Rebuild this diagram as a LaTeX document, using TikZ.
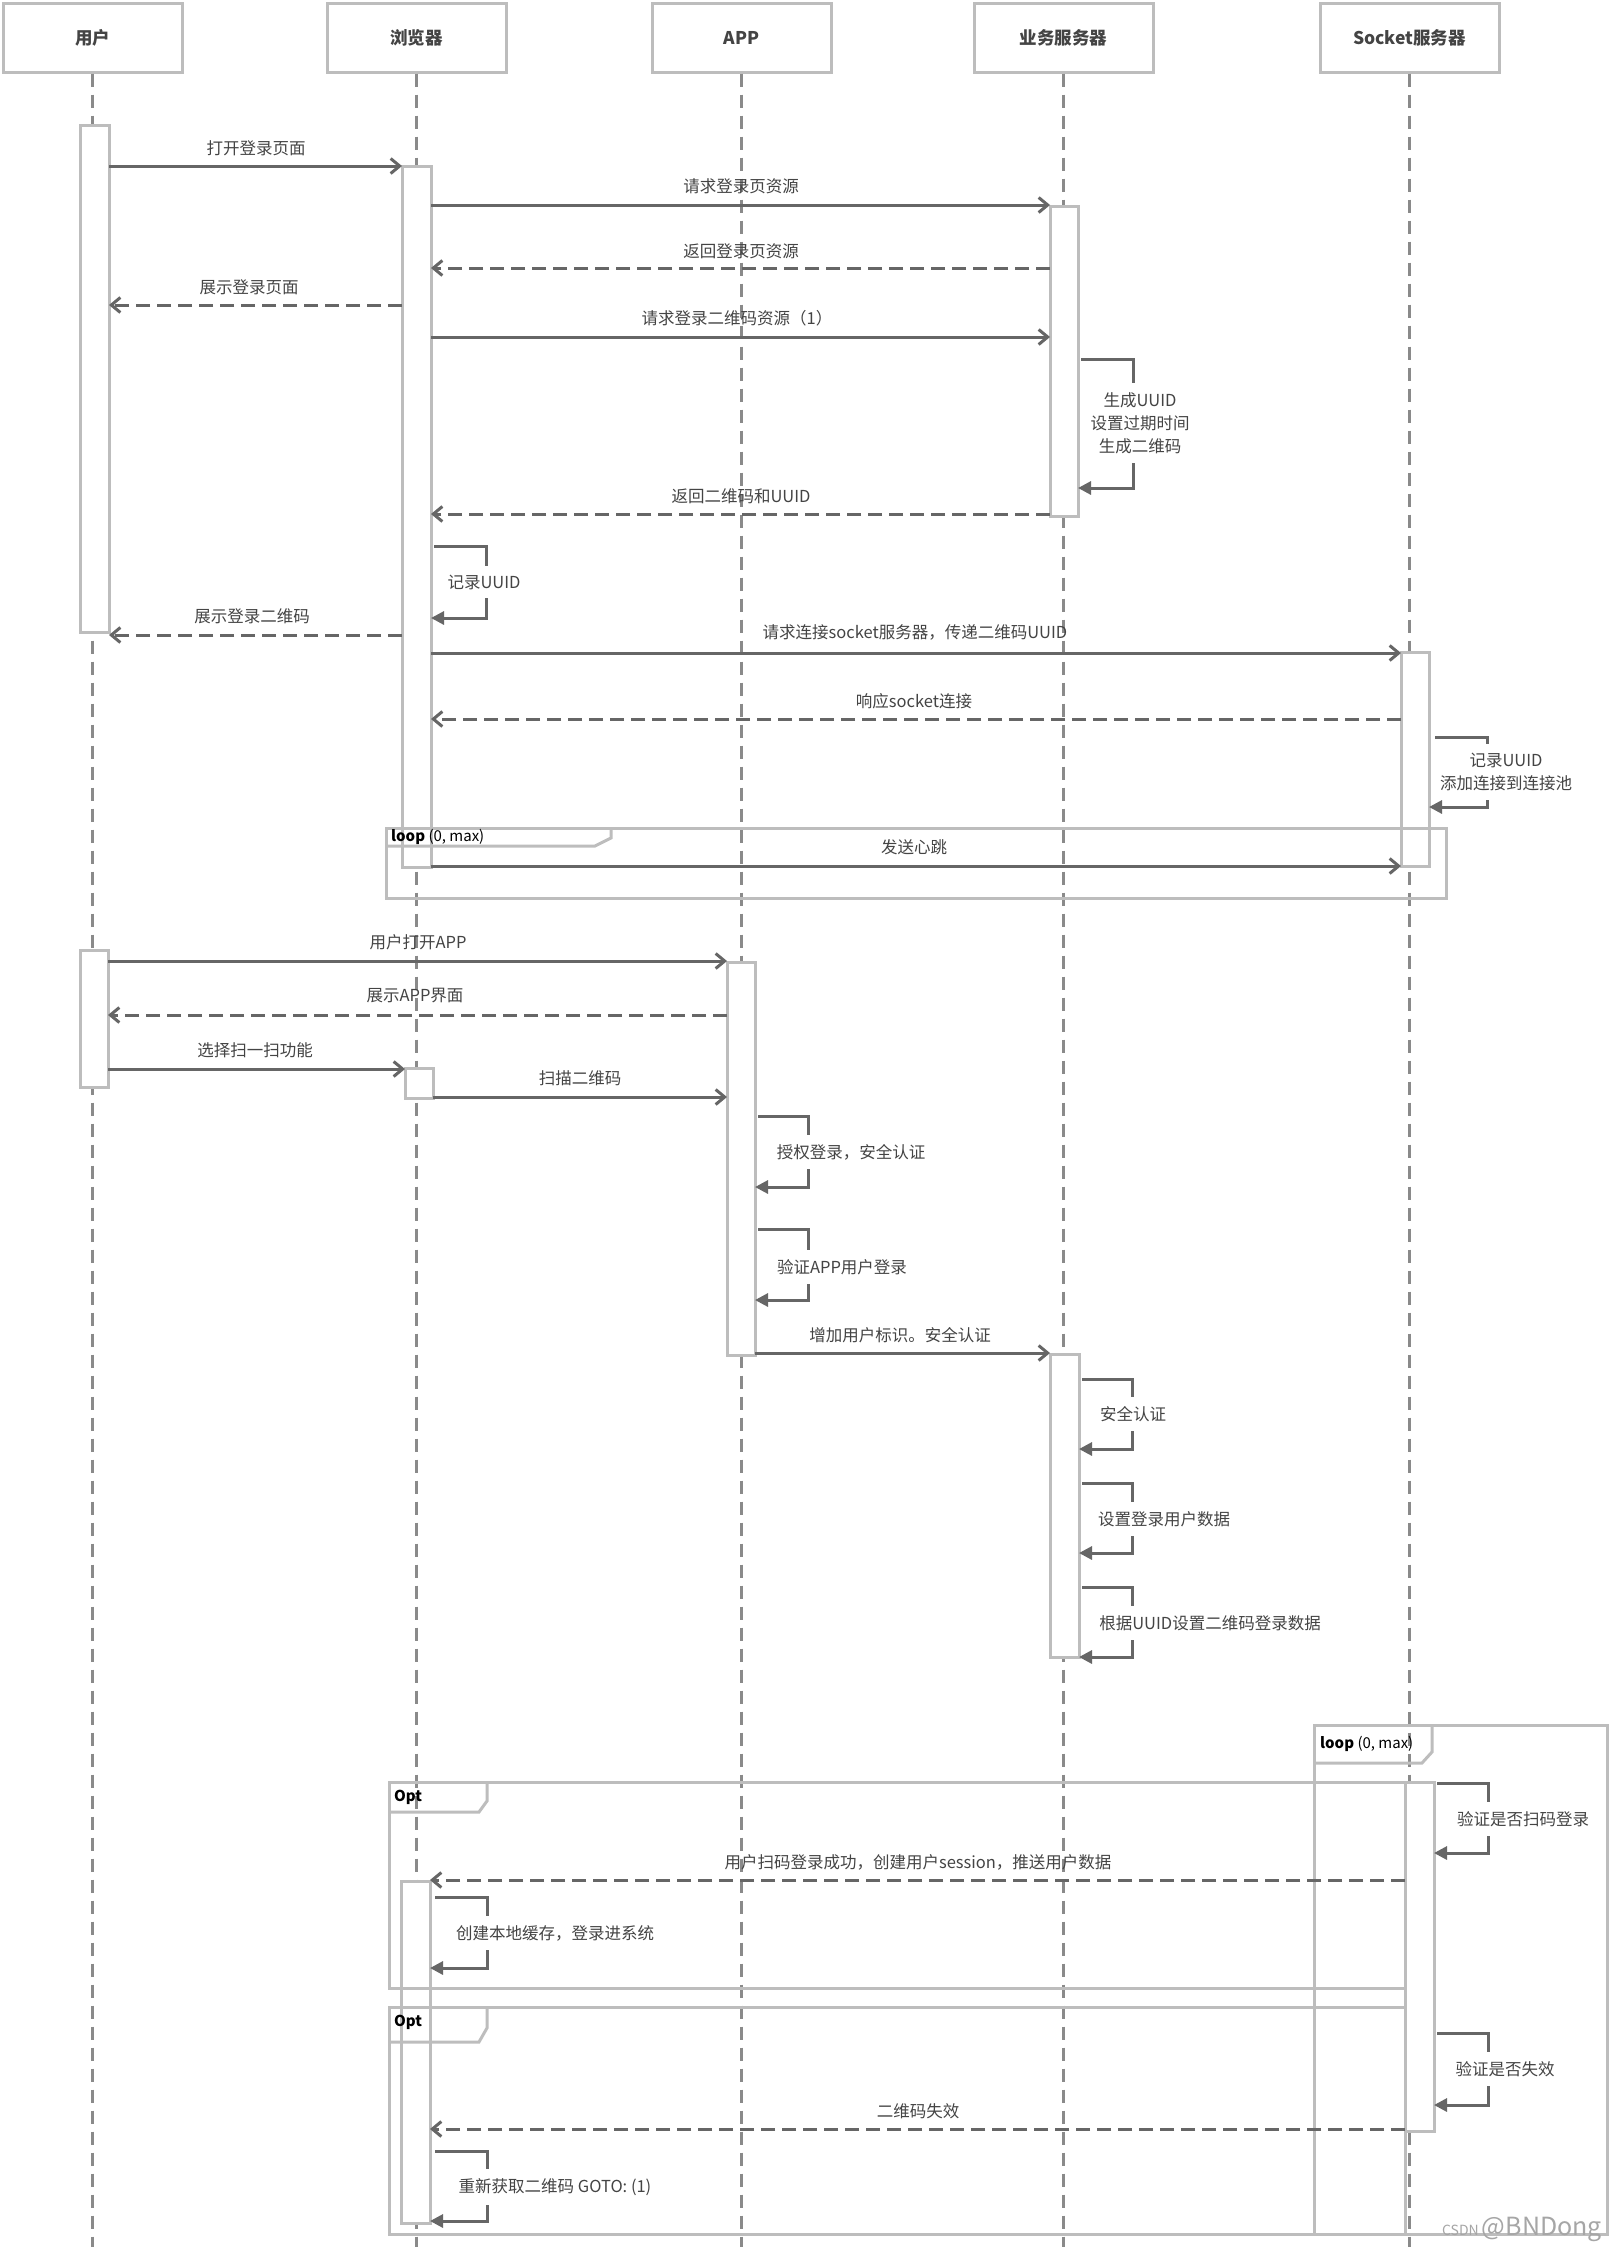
\documentclass[tikz,border=0pt]{standalone}
\usepackage{fontspec}
\setmainfont{Noto Sans CJK SC}
\usetikzlibrary{arrows.meta,fit,calc}
\definecolor{arr}{HTML}{666666}
\definecolor{boxc}{HTML}{BDBDBD}
\definecolor{lifec}{HTML}{8A8A8A}
\definecolor{txt}{HTML}{444444}
\tikzset{
  hdr/.style={draw=boxc, line width=3pt, fill=white, minimum width=179pt, minimum height=69pt, font=\fontsize{17.5}{20}\selectfont\bfseries, text=txt, inner sep=0},
  life/.style={draw=lifec, line width=2.5pt, dash pattern=on 13pt off 8pt},
  act/.style={draw=boxc, line width=3pt, fill=white, inner sep=0pt, outer sep=0pt},
  msg/.style={draw=arr, line width=3pt, -{Straight Barb[length=9pt,width=15pt]}},
  ret/.style={msg, dash pattern=on 14pt off 7pt},
  selfm/.style={draw=arr, line width=3pt, -{Triangle[length=13pt,width=13pt]}},
  lbl/.style={font=\fontsize{16.5}{19}\selectfont, text=txt, inner sep=1pt},
  slbl/.style={font=\fontsize{16.5}{23}\selectfont, text=txt, fill=white, inner xsep=2pt, inner ysep=9pt, align=center},
  frm/.style={draw=boxc, line width=3pt},
  tabtxt/.style={font=\fontsize{15}{17}\selectfont, text=black, anchor=west, inner sep=0pt},
}
\begin{document}
\begin{tikzpicture}[x=1pt,y=-1pt]
\fill[white] (0,0) rectangle (1609,2247);
\useasboundingbox (0,0) rectangle (1609,2247);
% headers
\node[hdr] (hU) at (92.5,37.5) {用户};
\node[hdr] (hB) at (416.5,37.5) {浏览器};
\node[hdr] (hA) at (741.5,37.5) {APP};
\node[hdr] (hS) at (1063.5,37.5) {业务服务器};
\node[hdr] (hK) at (1409.5,37.5) {Socket服务器};
% lifelines
\foreach \h in {hU,hB,hA,hS,hK}{\draw[life] (\h.south) -- (\h.south |- 0,2247);}
% activations
\node[act, fit={(80,125) (109,632)}] (aU1) {};
\node[act, fit={(402,166) (431,867)}] (aB1) {};
\node[act, fit={(1050,206) (1078,516)}] (aS1) {};
\node[act, fit={(1401,652) (1429,866)}] (aK1) {};
\node[act, fit={(80,950) (108,1087)}] (aU2) {};
\node[act, fit={(405,1068) (433,1098)}] (aB2) {};
\node[act, fit={(727,962) (755,1355)}] (aA1) {};
\node[act, fit={(1050,1354) (1079,1657)}] (aS2) {};
\node[act, fit={(1405,1782) (1434,2131)}] (aK2) {};
\node[act, fit={(401,1881) (430,2223)}] (aB3) {};
% frames
\draw[frm] (386,828) rectangle (1446,898);
\draw[frm] (386,846) -- (595,846) -- (611,838) -- (611,828);
\node[tabtxt] (tloop1) at (391,837) {\textbf{loop} (0, max)};
\draw[frm] (1314,1725) rectangle (1607,2234);
\draw[frm] (1314,1763) -- (1422,1763) -- (1432,1752) -- (1432,1725);
\node[tabtxt] (tloop2) at (1320,1744) {\textbf{loop} (0, max)};
\draw[frm] (389,1782) rectangle (1405,1988);
\draw[frm] (389,1812) -- (479,1812) -- (487,1801) -- (487,1782);
\node[tabtxt] (topt1) at (394,1797) {\textbf{Opt}};
\draw[frm] (389,2007) rectangle (1405,2234);
\draw[frm] (389,2042) -- (479,2042) -- (487,2028) -- (487,2007);
\node[tabtxt] (topt2) at (394,2022) {\textbf{Opt}};
% messages
\draw[msg] (aU1.east |- 0,166) -- (aB1.west |- 0,166);
\node[lbl] (l1) at (256,148) {打开登录页面};
\draw[msg] (aB1.east |- 0,205) -- (aS1.west |- 0,205);
\node[lbl] (l2) at (741,186) {请求登录页资源};
\draw[ret] (aS1.west |- 0,268) -- (aB1.east |- 0,268);
\node[lbl] (l3) at (741,251) {返回登录页资源};
\draw[ret] (aB1.west |- 0,305) -- (aU1.east |- 0,305);
\node[lbl] (l4) at (249,287) {展示登录页面};
\draw[msg] (aB1.east |- 0,337) -- (aS1.west |- 0,337);
\node[lbl] (l5) at (737,318) {请求登录二维码资源（1）};
\draw[selfm] ($(aS1.east |- 0,359)+(3,0)$) -- ++(52,0) |- (aS1.east |- 0,488);
\node[slbl] (s1) at (1140,423) {生成UUID\\设置过期时间\\生成二维码};
\draw[ret] (aS1.west |- 0,514) -- (aB1.east |- 0,514);
\node[lbl] (l6) at (741,496) {返回二维码和UUID};
\draw[selfm] ($(aB1.east |- 0,546)+(3,0)$) -- ++(52,0) |- (aB1.east |- 0,618);
\node[slbl] (s2) at (484,582) {记录UUID};
\draw[ret] (aB1.west |- 0,635) -- (aU1.east |- 0,635);
\node[lbl] (l7) at (252,616) {展示登录二维码};
\draw[msg] (aB1.east |- 0,653) -- (aK1.west |- 0,653);
\node[lbl] (l8) at (915,632) {请求连接socket服务器，传递二维码UUID};
\draw[ret] (aK1.west |- 0,719) -- (aB1.east |- 0,719);
\node[lbl] (l9) at (914,701) {响应socket连接};
\draw[selfm] ($(aK1.east |- 0,737)+(6,0)$) -- ++(52,0) |- (aK1.east |- 0,807);
\node[slbl] (s3) at (1506,772) {记录UUID\\添加连接到连接池};
\draw[msg] (aB1.east |- 0,866) -- (aK1.west |- 0,866);
\node[lbl] (l10) at (914,847) {发送心跳};
\draw[msg] (aU2.east |- 0,961) -- (aA1.west |- 0,961);
\node[lbl] (l11) at (418,942) {用户打开APP};
\draw[ret] (aA1.west |- 0,1015) -- (aU2.east |- 0,1015);
\node[lbl] (l12) at (415,996) {展示APP界面};
\draw[msg] (aU2.east |- 0,1069) -- (aB2.west |- 0,1069);
\node[lbl] (l13) at (255,1050) {选择扫一扫功能};
\draw[msg] (aB2.east |- 0,1097) -- (aA1.west |- 0,1097);
\node[lbl] (l14) at (580,1078) {扫描二维码};
\draw[selfm] ($(aA1.east |- 0,1116)+(3,0)$) -- ++(50,0) |- (aA1.east |- 0,1187);
\node[slbl] (s4) at (851,1152) {授权登录，安全认证};
\draw[selfm] ($(aA1.east |- 0,1229)+(3,0)$) -- ++(50,0) |- (aA1.east |- 0,1300);
\node[slbl] (s5) at (842,1267) {验证APP用户登录};
\draw[msg] (aA1.east |- 0,1353) -- (aS2.west |- 0,1353);
\node[lbl] (l15) at (900,1335) {增加用户标识。安全认证};
\draw[selfm] ($(aS2.east |- 0,1379)+(3,0)$) -- ++(50,0) |- (aS2.east |- 0,1449);
\node[slbl] (s6) at (1133,1414) {安全认证};
\draw[selfm] ($(aS2.east |- 0,1483)+(3,0)$) -- ++(50,0) |- (aS2.east |- 0,1553);
\node[slbl] (s7) at (1164,1519) {设置登录用户数据};
\draw[selfm] ($(aS2.east |- 0,1587)+(3,0)$) -- ++(50,0) |- (aS2.east |- 0,1657);
\node[slbl] (s8) at (1210,1623) {根据UUID设置二维码登录数据};
\draw[selfm] ($(aK2.east |- 0,1783)+(3,0)$) -- ++(51,0) |- (aK2.east |- 0,1853);
\node[slbl] (s9) at (1523,1819) {验证是否扫码登录};
\draw[ret] (aK2.west |- 0,1880) -- (aB3.east |- 0,1880);
\node[lbl] (l16) at (918,1862) {用户扫码登录成功，创建用户session，推送用户数据};
\draw[selfm] ($(aB3.east |- 0,1897)+(5,0)$) -- ++(52,0) |- (aB3.east |- 0,1968);
\node[slbl] (s10) at (555,1933) {创建本地缓存，登录进系统};
\draw[selfm] ($(aK2.east |- 0,2033)+(3,0)$) -- ++(51,0) |- (aK2.east |- 0,2105);
\node[slbl] (s11) at (1505,2069) {验证是否失效};
\draw[ret] (aK2.west |- 0,2129) -- (aB3.east |- 0,2129);
\node[lbl] (l17) at (918,2111) {二维码失效};
\draw[selfm] ($(aB3.east |- 0,2151)+(5,0)$) -- ++(52,0) |- (aB3.east |- 0,2221);
\node[slbl] (s12) at (555,2187) {重新获取二维码 GOTO: (1)};
% watermark
\node[anchor=south east, inner sep=0pt, text=black!35] (wm) at (1602,2242) {\fontsize{14}{14}\selectfont CSDN \fontsize{25}{25}\selectfont @BNDong};
\end{tikzpicture}
\end{document}
